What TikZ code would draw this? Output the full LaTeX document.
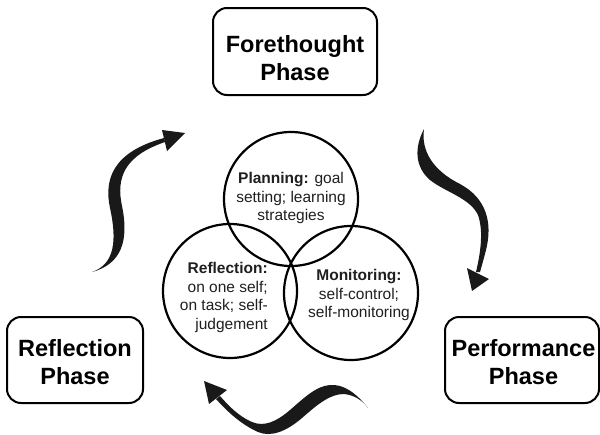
\documentclass[tikz,border=0pt]{standalone}
\usepackage{fontspec}
\setmainfont{Liberation Sans}
\begin{document}
\begin{tikzpicture}[x=1pt,y=-1pt,
  phasebox/.style={draw, line width=2pt, rounded corners=14pt, inner sep=0pt},
  phasetext/.style={align=center, font=\bfseries\fontsize{23.5}{27.5}\selectfont, inner sep=0pt},
  circ/.style={draw, circle, line width=2.2pt, minimum size=134pt, inner sep=0pt},
  circtext/.style={font=\fontsize{15.5}{18.5}\selectfont, inner sep=0pt, text=black!88},
  swoosh/.style={fill=black!90, draw=none}
]
\useasboundingbox (0,0) rectangle (600,434);
\clip (0,0) rectangle (600,434);

% phase boxes
\node[phasebox, minimum width=164pt, minimum height=87pt] (fore) at (295,51.5) {};
\node[phasetext] (foret) at (295,58) {Forethought\\Phase};
\node[phasebox, minimum width=136pt, minimum height=86pt] (refl) at (75,360) {};
\node[phasetext] (reflt) at (75,362) {Reflection\\Phase};
\node[phasebox, minimum width=154pt, minimum height=86pt] (perf) at (522,360) {};
\node[phasetext] (perft) at (523.5,362) {Performance\\Phase};

% circles
\node[circ] (plan) at (291,199) {};
\node[circ] (rcirc) at (230,291) {};
\node[circ] (mon) at (351,293) {};

\node[circtext, align=center] (plant) at (291,198) {\textbf{Planning:} goal\\setting; learning\\strategies};
\node[circtext, align=right, anchor=east] (reflct) at (268,297.5) {\textbf{Reflection:}\\on one self;\\on task; self-\\judgement};
\node[circtext, align=center] (mont) at (359,295) {\textbf{Monitoring:}\\self-control;\\self-monitoring};

% left swoosh arrow (Reflection -> Forethought)
\fill[swoosh] (92,272) .. controls (115,264) and (117,240) .. (110,208)
  .. controls (104,180) and (112,152) .. (164,138)
  -- (165,142)
  .. controls (124,156) and (116,178) .. (122,206)
  .. controls (129,240) and (122,264) .. (92,272) -- cycle;
\fill[swoosh] (162,130) -- (185,133) -- (167,151) -- cycle;

% right swoosh arrow (Forethought -> Performance)
\fill[swoosh] (424,129) .. controls (421,150) and (432,170) .. (460,184)
  .. controls (486,198) and (493,222) .. (486,250)
  .. controls (484,258) and (482,265) .. (480,272)
  -- (476,272)
  .. controls (480,255) and (484,232) .. (478,215)
  .. controls (470,198) and (445,192) .. (430,180)
  .. controls (415,167) and (414,148) .. (424,129) -- cycle;
\fill[swoosh] (467,268) -- (489,279) -- (472,291) -- cycle;

% bottom swoosh arrow (Performance -> Reflection)
\fill[swoosh] (368,408) .. controls (356,393) and (344,384) .. (330,385)
  .. controls (316,386) and (304,398) .. (290,410)
  .. controls (276,422) and (264,427) .. (252,422)
  .. controls (238,416) and (228,405) .. (220,396)
  -- (216,399)
  .. controls (226,410) and (240,424) .. (258,432)
  .. controls (272,438) and (288,430) .. (302,418)
  .. controls (318,404) and (330,394) .. (344,394)
  .. controls (354,395) and (362,400) .. (368,408) -- cycle;
\fill[swoosh] (204,381) -- (227,390) -- (209,404) -- cycle;
\end{tikzpicture}
\end{document}
